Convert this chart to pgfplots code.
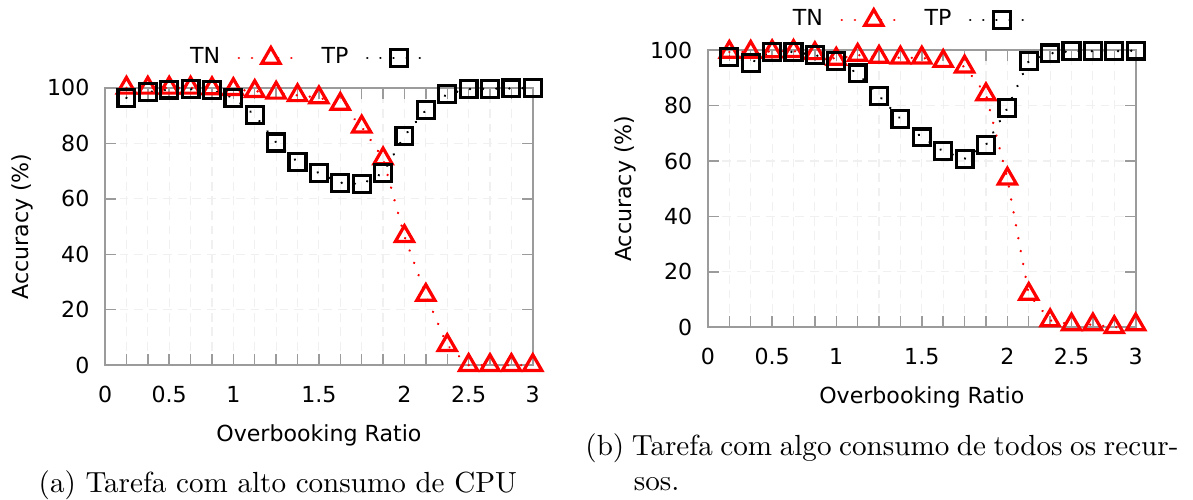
\documentclass[border=0pt]{standalone}
\usepackage{fontspec}
\usepackage{pgfplots}
\pgfplotsset{compat=1.18}
\newfontfamily\dejavu{DejaVu Sans}
\newcommand\lbl{\dejavu\fontsize{7.6pt}{9pt}\selectfont}
\definecolor{axgray}{RGB}{155,155,155}

\pgfplotsset{
  accplot/.style={
    width=147pt, height=95.3pt, scale only axis,
    xmin=0, xmax=20, ymin=0, ymax=100,
    clip=false,
    xtick={0,...,20},
    xticklabels={0,,,0.5,,,1,,,,1.5,,,,2,,,2.5,,,3},
    ytick={0,20,...,100},
    tick align=inside,
    major tick length=3.8pt,
    tick style={axgray, line width=0.5pt},
    axis line style={axgray, line width=0.6pt},
    grid=major,
    grid style={densely dashed, black!6, line width=0.4pt},
    /pgf/number format/assume math mode=true,
    ticklabel style={font=\lbl},
    xticklabel style={anchor=center, yshift=-10.1pt},
    yticklabel style={anchor=east, inner sep=0pt, xshift=-5.2pt},
    label style={font=\lbl},
    xlabel={Overbooking Ratio},
    ylabel={Accuracy (\%)},
    xlabel style={at={([yshift=-24pt]axis description cs:0.5,0)}, anchor=center},
    ylabel style={at={([xshift=-28.4pt]axis description cs:0,0.5)}, anchor=center},
    legend columns=2,
    legend plot pos=right,
    legend style={draw=none, fill=none, font=\lbl, at={(0.467,1.108)}, anchor=center,
      /tikz/column 1/.style={column sep=4pt},
      /tikz/column 2/.style={column sep=6.5pt},
      /tikz/column 3/.style={column sep=4pt}},
    legend image code/.code={\draw[#1, mark repeat=2, mark phase=2]
      plot coordinates {(0pt,0pt) (11pt,0pt) (19.5pt,0pt)};},
  },
  tn/.style={red, dash pattern=on 0.01pt off 4.5pt, line cap=round, line width=0.9pt,
    mark=triangle, mark size=3.6pt,
    mark options={solid, line width=1.1pt, line cap=butt, line join=miter}},
  tp/.style={black, dash pattern=on 0.01pt off 4.5pt, line cap=round, line width=0.9pt,
    mark=square, mark size=2.9pt,
    mark options={solid, line width=1.1pt, line cap=butt, line join=miter}},
}

\begin{document}
\begin{tikzpicture}
\path[use as bounding box] (0pt,0pt) rectangle (410pt,-171.8pt);

% (a) CPU
\begin{axis}[accplot, at={(36.1pt,-30.2pt)}, anchor=north west]
\addplot[tn] coordinates {
(1,100) (2,100) (3,100) (4,100) (5,99.8) (6,99.5) (7,98.8) (8,98.2) (9,97.3) (10,96.5)
(11,94.2) (12,86) (13,74.5) (14,46.5) (15,25.3) (16,7.2) (17,0) (18,0) (19,0) (20,0)};
\addlegendentry{TN}
\addplot[tp] coordinates {
(1,96.4) (2,98.5) (3,99.4) (4,99.5) (5,99.2) (6,96.4) (7,90.2) (8,80.3) (9,73.3) (10,69.3)
(11,65.8) (12,65.3) (13,69.3) (14,82.7) (15,92) (16,97.8) (17,99.6) (18,99.7) (19,99.8) (20,100)};
\addlegendentry{TP}
\end{axis}

% (b) todos os recursos
\begin{axis}[accplot, at={(243.3pt,-17.2pt)}, anchor=north west]
\addplot[tn] coordinates {
(1,99.3) (2,99.3) (3,99.5) (4,99.6) (5,98.8) (6,96.8) (7,98.2) (8,97.5) (9,97.2) (10,97.2)
(11,96) (12,94) (13,84) (14,53.6) (15,12) (16,2.5) (17,1) (18,1) (19,0) (20,1)};
\addlegendentry{TN}
\addplot[tp] coordinates {
(1,97.6) (2,95.4) (3,99.4) (4,99.3) (5,98.2) (6,96) (7,91.6) (8,83.5) (9,75.2) (10,68.5)
(11,63.5) (12,60.8) (13,65.8) (14,79) (15,96) (16,98.8) (17,99.6) (18,99.6) (19,99.6) (20,99.8)};
\addlegendentry{TP}
\end{axis}

\node[anchor=base west, inner sep=0pt] at (13.1pt,-169.1pt)
  {(a) Tarefa com alto consumo de CPU};
\node[anchor=base west, inner sep=0pt] at (201pt,-156.7pt)
  {\parbox[t]{203.8pt}{\hangindent=16.67pt\hangafter=1
   (b) Tarefa com algo consumo de todos os recur-\linebreak sos.}};
\end{tikzpicture}
\end{document}
